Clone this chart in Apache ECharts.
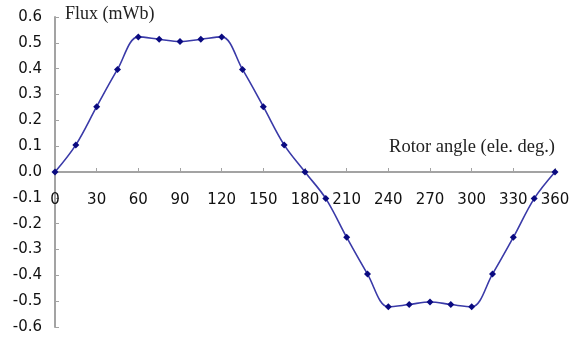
<!DOCTYPE html>
<html>
<head>
<meta charset="utf-8">
<script src="https://cdn.jsdelivr.net/npm/echarts@6/dist/echarts.min.js"></script>
<style>
  html, body { margin: 0; padding: 0; background: #fff; }
  #chart { width: 584px; height: 340px; }
</style>
</head>
<body>
<div id="chart"></div>
<script>
// rotor angle (ele. deg.) and flux (mWb)
const angles = [0, 15, 30, 45, 60, 75, 90, 105, 120, 135, 150, 165, 180,
  195, 210, 225, 240, 255, 270, 285, 300, 315, 330, 345, 360];
const flux = [0, 0.105, 0.253, 0.397, 0.523, 0.514, 0.505, 0.514, 0.523, 0.397, 0.253, 0.105, 0,
  -0.103, -0.253, -0.395, -0.522, -0.513, -0.503, -0.513, -0.522, -0.395, -0.253, -0.103, 0];

const axisColor = "#a3a3a3";
const labelFont = "DejaVu Sans";
const serifFont = "Liberation Serif";

const chart = echarts.init(document.getElementById("chart"));

const option = {
  animation: false,
  grid: { left: 55, right: 29, top: 17, bottom: 13, containLabel: false, outerBoundsMode: "none" },
  xAxis: {
    type: "value",
    min: 0,
    max: 360,
    interval: 30,
    name: "Rotor angle (ele. deg.)",
    nameLocation: "end",
    nameGap: 0,
    nameTextStyle: {
      fontFamily: serifFont,
      fontSize: 18.5,
      color: "#222",
      align: "right",
      verticalAlign: "bottom",
      padding: [0, 0, 15, 0],
    },
    axisLine: { onZero: true, lineStyle: { color: axisColor, width: 2 } },
    axisTick: { show: true, inside: true, length: 4, lineStyle: { color: axisColor, width: 1 } },
    // v6 keeps labels on the grid edge, so pull them up under the zero line
    axisLabel: {
      margin: -134,
      fontFamily: labelFont,
      fontSize: 15,
      color: "#111",
      showMinLabel: true,
      showMaxLabel: true,
    },
    splitLine: { show: false },
  },
  yAxis: {
    type: "value",
    min: -0.6,
    max: 0.6,
    interval: 0.1,
    name: "Flux (mWb)",
    nameLocation: "end",
    nameGap: 3,
    nameTextStyle: {
      fontFamily: serifFont,
      fontSize: 18,
      color: "#222",
      align: "left",
      verticalAlign: "middle",
      padding: [0, 0, 0, 10],
    },
    axisLine: { show: true, onZero: false, lineStyle: { color: axisColor, width: 2 } },
    axisTick: { show: true, inside: true, length: 4, lineStyle: { color: axisColor, width: 1 } },
    axisLabel: {
      margin: 13,
      fontFamily: labelFont,
      fontSize: 15,
      color: "#111",
      formatter: (v) => v.toFixed(1),
    },
    splitLine: { show: false },
  },
  series: [
    {
      type: "line",
      data: angles.map((a, i) => [a, flux[i]]),
      smooth: 0.35,
      symbol: "diamond",
      symbolSize: 7,
      lineStyle: { color: "#3a3aa8", width: 1.6 },
      itemStyle: { color: "#0a0a80" },
      z: 5,
    },
  ],
};

chart.setOption(option);
</script>
</body>
</html>
